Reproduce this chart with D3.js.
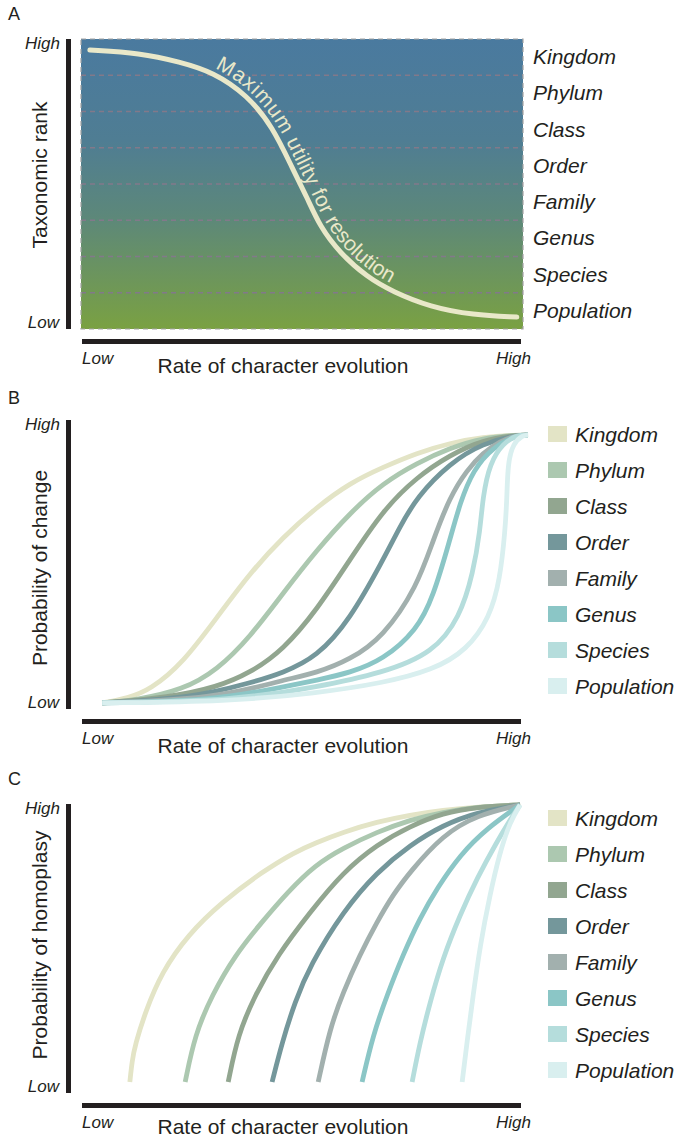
<!DOCTYPE html>
<html lang="en">
<head>
<meta charset="UTF-8">
<script src="https://cdnjs.cloudflare.com/ajax/libs/d3/7.8.5/d3.min.js"></script>
<style>
    body { margin: 0; background: #fff; }
    text { font-family: "Liberation Sans", Arial, Helvetica, sans-serif; fill: #231f20; }
</style>
</head>
<body>
<svg id="chart" width="678" height="1139"></svg>
<script>
    // taxonomic ranks, top to bottom, and their colours in panels B and C
    var ranks = ["Kingdom", "Phylum", "Class", "Order", "Family", "Genus", "Species", "Population"];
    var rankColors = ["#e3e4c6", "#acc8b0", "#92a690", "#74979b", "#a2b0ae", "#8bc6c6", "#b5dddc", "#d9efef"];
    var levelLabels = ["Low", "High"];

    // panel A: maximum utility curve, [rate, rank position] on 0-100 scales
    var utilityCurve = [[2.0, 96.2], [13.3, 95.2], [22.4, 92.1], [29.9, 88.6], [37.6, 80.7], [43.4, 69.7],
        [48.0, 54.8], [51.1, 45.5], [54.1, 35.2], [58.6, 26.2], [64.7, 17.9], [70.6, 12.8],
        [79.0, 7.6], [88.7, 4.8], [98.6, 4.1]];

    // panel B: probability of change, one curve per rank
    var changeCurves = [
        [[4.6, 2.1], [10.5, 3.8], [15.5, 6.6], [23.0, 15.9], [30.8, 31.8], [38.3, 47.1], [45.8, 59.5],
            [53.5, 69.9], [61.0, 78.2], [68.6, 83.7], [76.3, 88.6], [83.8, 92.0], [91.3, 94.1], [99.1, 94.8], [101.6, 94.8]],
        [[4.6, 2.1], [12.0, 3.0], [23.0, 6.6], [30.8, 13.5], [38.3, 24.9], [45.8, 40.1], [53.5, 55.0],
            [61.0, 67.8], [68.6, 78.2], [76.3, 85.1], [83.8, 90.3], [91.3, 93.8], [99.1, 94.8], [101.6, 94.8]],
        [[4.6, 2.1], [20.0, 4.0], [30.8, 7.6], [38.3, 12.5], [45.8, 20.4], [53.5, 34.3], [61.0, 51.6],
            [68.6, 68.9], [76.3, 80.3], [83.8, 87.9], [91.3, 93.1], [99.1, 94.8], [101.6, 94.8]],
        [[4.6, 2.1], [25.0, 3.8], [38.3, 9.0], [45.8, 12.5], [53.5, 18.0], [61.0, 30.8], [68.6, 51.6],
            [72.4, 63.0], [76.3, 73.4], [83.8, 85.1], [91.3, 92.0], [99.1, 94.8], [101.6, 94.8]],
        [[4.6, 2.1], [30.0, 3.5], [45.8, 10.0], [53.5, 12.5], [61.0, 17.0], [68.6, 24.9], [76.3, 42.2],
            [80.0, 58.5], [83.8, 73.4], [87.7, 82.7], [91.3, 88.6], [95.2, 92.7], [99.1, 94.8], [101.6, 94.8]],
        [[4.6, 2.1], [30.0, 3.0], [45.8, 7.6], [53.5, 10.0], [61.0, 12.5], [68.6, 17.0], [76.3, 27.3],
            [80.0, 38.8], [83.8, 58.5], [86.1, 71.3], [89.1, 82.7], [93.6, 90.7], [99.1, 94.8], [101.6, 94.8]],
        [[4.6, 2.1], [35.0, 3.0], [53.5, 7.6], [68.6, 12.5], [80.0, 19.4], [86.1, 31.8], [89.1, 47.1],
            [90.7, 61.9], [91.3, 73.4], [92.9, 85.1], [95.9, 92.0], [99.1, 94.8], [101.6, 94.8]],
        [[4.6, 2.1], [33.3, 2.6], [53.5, 5.5], [68.6, 9.0], [80.0, 13.5], [87.7, 20.4], [92.9, 31.8],
            [95.2, 44.6], [96.4, 61.9], [96.8, 73.4], [97.0, 85.1], [98.2, 92.0], [100.5, 94.8], [101.6, 94.8]]
    ];

    // panel C: probability of homoplasy, one curve per rank
    var homoplasyCurves = [
        [[10.9, 3.8], [11.4, 11.0], [12.1, 16.6], [14.4, 28.0], [18.2, 41.9], [24.1, 54.7], [31.9, 66.1], [41.0, 76.5],
            [48.5, 83.4], [53.1, 86.5], [59.5, 90.3], [67.2, 93.8], [74.7, 96.2], [82.2, 97.9], [90.0, 99.0], [99.8, 99.7]],
        [[23.5, 3.8], [25.7, 20.1], [29.6, 33.9], [34.9, 47.8], [41.0, 59.2], [46.9, 69.6], [53.1, 78.9],
            [59.5, 84.8], [67.2, 90.3], [74.7, 94.5], [82.2, 97.2], [90.0, 99.0], [99.8, 99.7]],
        [[33.3, 3.8], [35.5, 20.1], [39.4, 33.9], [44.6, 47.8], [51.9, 62.5], [59.5, 76.5], [67.2, 86.0],
            [74.7, 92.3], [82.2, 96.9], [90.0, 99.0], [99.8, 99.7]],
        [[43.3, 3.8], [45.6, 17.6], [48.5, 31.5], [51.9, 44.0], [59.5, 63.0], [67.2, 76.5], [74.7, 85.8],
            [82.2, 92.7], [90.0, 97.2], [99.8, 99.7]],
        [[53.8, 3.8], [56.5, 22.5], [59.5, 34.9], [63.3, 47.8], [67.2, 59.2], [70.8, 68.5], [74.7, 76.5],
            [82.2, 89.3], [90.0, 96.2], [99.8, 99.7]],
        [[63.8, 3.8], [66.3, 20.1], [69.5, 33.9], [73.1, 47.8], [77.0, 60.6], [80.9, 70.9], [86.1, 82.4],
            [92.3, 91.7], [99.8, 99.7]],
        [[75.2, 3.8], [77.0, 17.6], [79.3, 31.5], [82.2, 46.7], [86.1, 61.6], [90.0, 74.4], [94.5, 86.9],
            [97.5, 94.5], [99.8, 99.7]],
        [[86.6, 3.8], [87.7, 17.6], [89.1, 33.9], [90.7, 51.2], [92.9, 68.5], [95.2, 83.4], [97.5, 93.8], [99.8, 99.7]]
    ];

    var ink = "#231f20";
    var svg = d3.select("#chart");

    var panels = [
        {letter: "A", letterY: 20, top: 39, bottom: 329, yTitle: "Taxonomic rank", yTitleY: 175, titleY: 373},
        {letter: "B", letterY: 404, top: 420, bottom: 709, yTitle: "Probability of change", yTitleY: 568, titleY: 753},
        {letter: "C", letterY: 785, top: 804, bottom: 1093, yTitle: "Probability of homoplasy", yTitleY: 945, titleY: 1134}
    ];

    panels.forEach(function (p) {
        var g = svg.append("g");
        g.append("text").attr("x", 8).attr("y", p.letterY).style("font-size", "18px").text(p.letter);

        // y axis bar
        g.append("rect").attr("x", 66).attr("y", p.top).attr("width", 5)
            .attr("height", p.bottom - p.top).attr("fill", ink);
        g.append("text").attr("x", 60).attr("y", p.top + 10).attr("text-anchor", "end")
            .style("font-size", "17px").style("font-style", "italic").text(levelLabels[1]);
        g.append("text").attr("x", 59).attr("y", p.bottom - 1).attr("text-anchor", "end")
            .style("font-size", "17px").style("font-style", "italic").text(levelLabels[0]);
        g.append("text").attr("transform", "translate(47," + p.yTitleY + ") rotate(-90)")
            .attr("text-anchor", "middle").style("font-size", "21px").text(p.yTitle);

        // x axis bar
        g.append("rect").attr("x", 82).attr("y", p.bottom + 10).attr("width", 439)
            .attr("height", 5).attr("fill", ink);
        g.append("text").attr("x", 82).attr("y", p.bottom + 35)
            .style("font-size", "17px").style("font-style", "italic").text(levelLabels[0]);
        g.append("text").attr("x", 531).attr("y", p.bottom + 35).attr("text-anchor", "end")
            .style("font-size", "17px").style("font-style", "italic").text(levelLabels[1]);
        g.append("text").attr("x", 283).attr("y", p.titleY).attr("text-anchor", "middle")
            .style("font-size", "21px").text("Rate of character evolution");
    });

    // ---- panel A ----
    var xA = d3.scaleLinear().domain([0, 100]).range([81, 523]);
    var yA = d3.scaleLinear().domain([0, 100]).range([329, 39]);
    var bandA = d3.scaleBand().domain(ranks).range([39, 329]);

    var grad = svg.append("defs").append("linearGradient").attr("id", "bgA")
        .attr("x1", 0).attr("y1", 0).attr("x2", 0).attr("y2", 1);
    grad.append("stop").attr("offset", "0%").attr("stop-color", "#4a7a9f");
    grad.append("stop").attr("offset", "35%").attr("stop-color", "#4f7d93");
    grad.append("stop").attr("offset", "62%").attr("stop-color", "#5d8879");
    grad.append("stop").attr("offset", "100%").attr("stop-color", "#7aa142");

    var gA = svg.append("g");
    gA.append("rect").attr("x", xA(0)).attr("y", yA(100)).attr("width", xA(100) - xA(0))
        .attr("height", yA(0) - yA(100)).attr("fill", "url(#bgA)");

    gA.selectAll("line.rank").data(ranks.slice(1)).enter().append("line")
        .attr("x1", xA(0)).attr("x2", xA(100))
        .attr("y1", function (d) { return bandA(d); })
        .attr("y2", function (d) { return bandA(d); })
        .attr("stroke", "#82798a").attr("stroke-width", 1.4).attr("stroke-dasharray", "5,4");

    gA.append("rect").attr("x", xA(0)).attr("y", yA(100)).attr("width", xA(100) - xA(0))
        .attr("height", yA(0) - yA(100)).attr("fill", "none")
        .attr("stroke", "#a4a4a4").attr("stroke-width", 1.2).attr("stroke-dasharray", "5,4");

    gA.selectAll("text.rank").data(ranks).enter().append("text")
        .attr("x", 533)
        .attr("y", function (d) { return bandA(d) + bandA.bandwidth() / 2; })
        .attr("dy", "0.33em")
        .style("font-size", "21px").style("font-style", "italic")
        .text(function (d) { return d; });

    var lineA = d3.line()
        .x(function (d) { return xA(d[0]); })
        .y(function (d) { return yA(d[1]); })
        .curve(d3.curveBasis);

    var utilPath = gA.append("path").attr("id", "utility").attr("d", lineA(utilityCurve))
        .attr("fill", "none").attr("stroke", "#e9e8c9").attr("stroke-width", 5)
        .attr("stroke-linecap", "round");

    // find where the label starts along the curve
    var node = utilPath.node();
    var total = node.getTotalLength();
    var startLen = 0;
    for (var l = 0; l < total; l += 1) {
        if (node.getPointAtLength(l).x >= 211) { startLen = l; break; }
    }

    gA.append("text").attr("dy", -6)
        .style("font-size", "21px").style("fill", "#e9e8c9").style("letter-spacing", "0.4px")
        .append("textPath").attr("href", "#utility").attr("startOffset", startLen)
        .text("Maximum utility for resolution");

    // ---- panels B and C ----
    function curvePanel(curves, top, bottom, legendTop) {
        var x = d3.scaleLinear().domain([0, 100]).range([82, 521]);
        var y = d3.scaleLinear().domain([0, 100]).range([bottom, top]);
        var line = d3.line()
            .x(function (d) { return x(d[0]); })
            .y(function (d) { return y(d[1]); })
            .curve(d3.curveBasis);

        var g = svg.append("g");
        g.selectAll("path").data(curves).enter().append("path")
            .attr("d", line)
            .attr("fill", "none")
            .attr("stroke", function (d, i) { return rankColors[i]; })
            .attr("stroke-width", 4.8);

        var leg = d3.scaleBand().domain(ranks).range([legendTop, legendTop + 36 * ranks.length]);
        var items = g.selectAll("g.leg").data(ranks).enter().append("g")
            .attr("transform", function (d) { return "translate(548," + leg(d) + ")"; });
        items.append("rect").attr("width", 19).attr("height", 16)
            .attr("fill", function (d, i) { return rankColors[i]; });
        items.append("text").attr("x", 27).attr("y", 16)
            .style("font-size", "21px").style("font-style", "italic")
            .text(function (d) { return d; });
    }

    curvePanel(changeCurves, 420, 709, 426);
    curvePanel(homoplasyCurves, 804, 1093, 810);
</script>
</body>
</html>
